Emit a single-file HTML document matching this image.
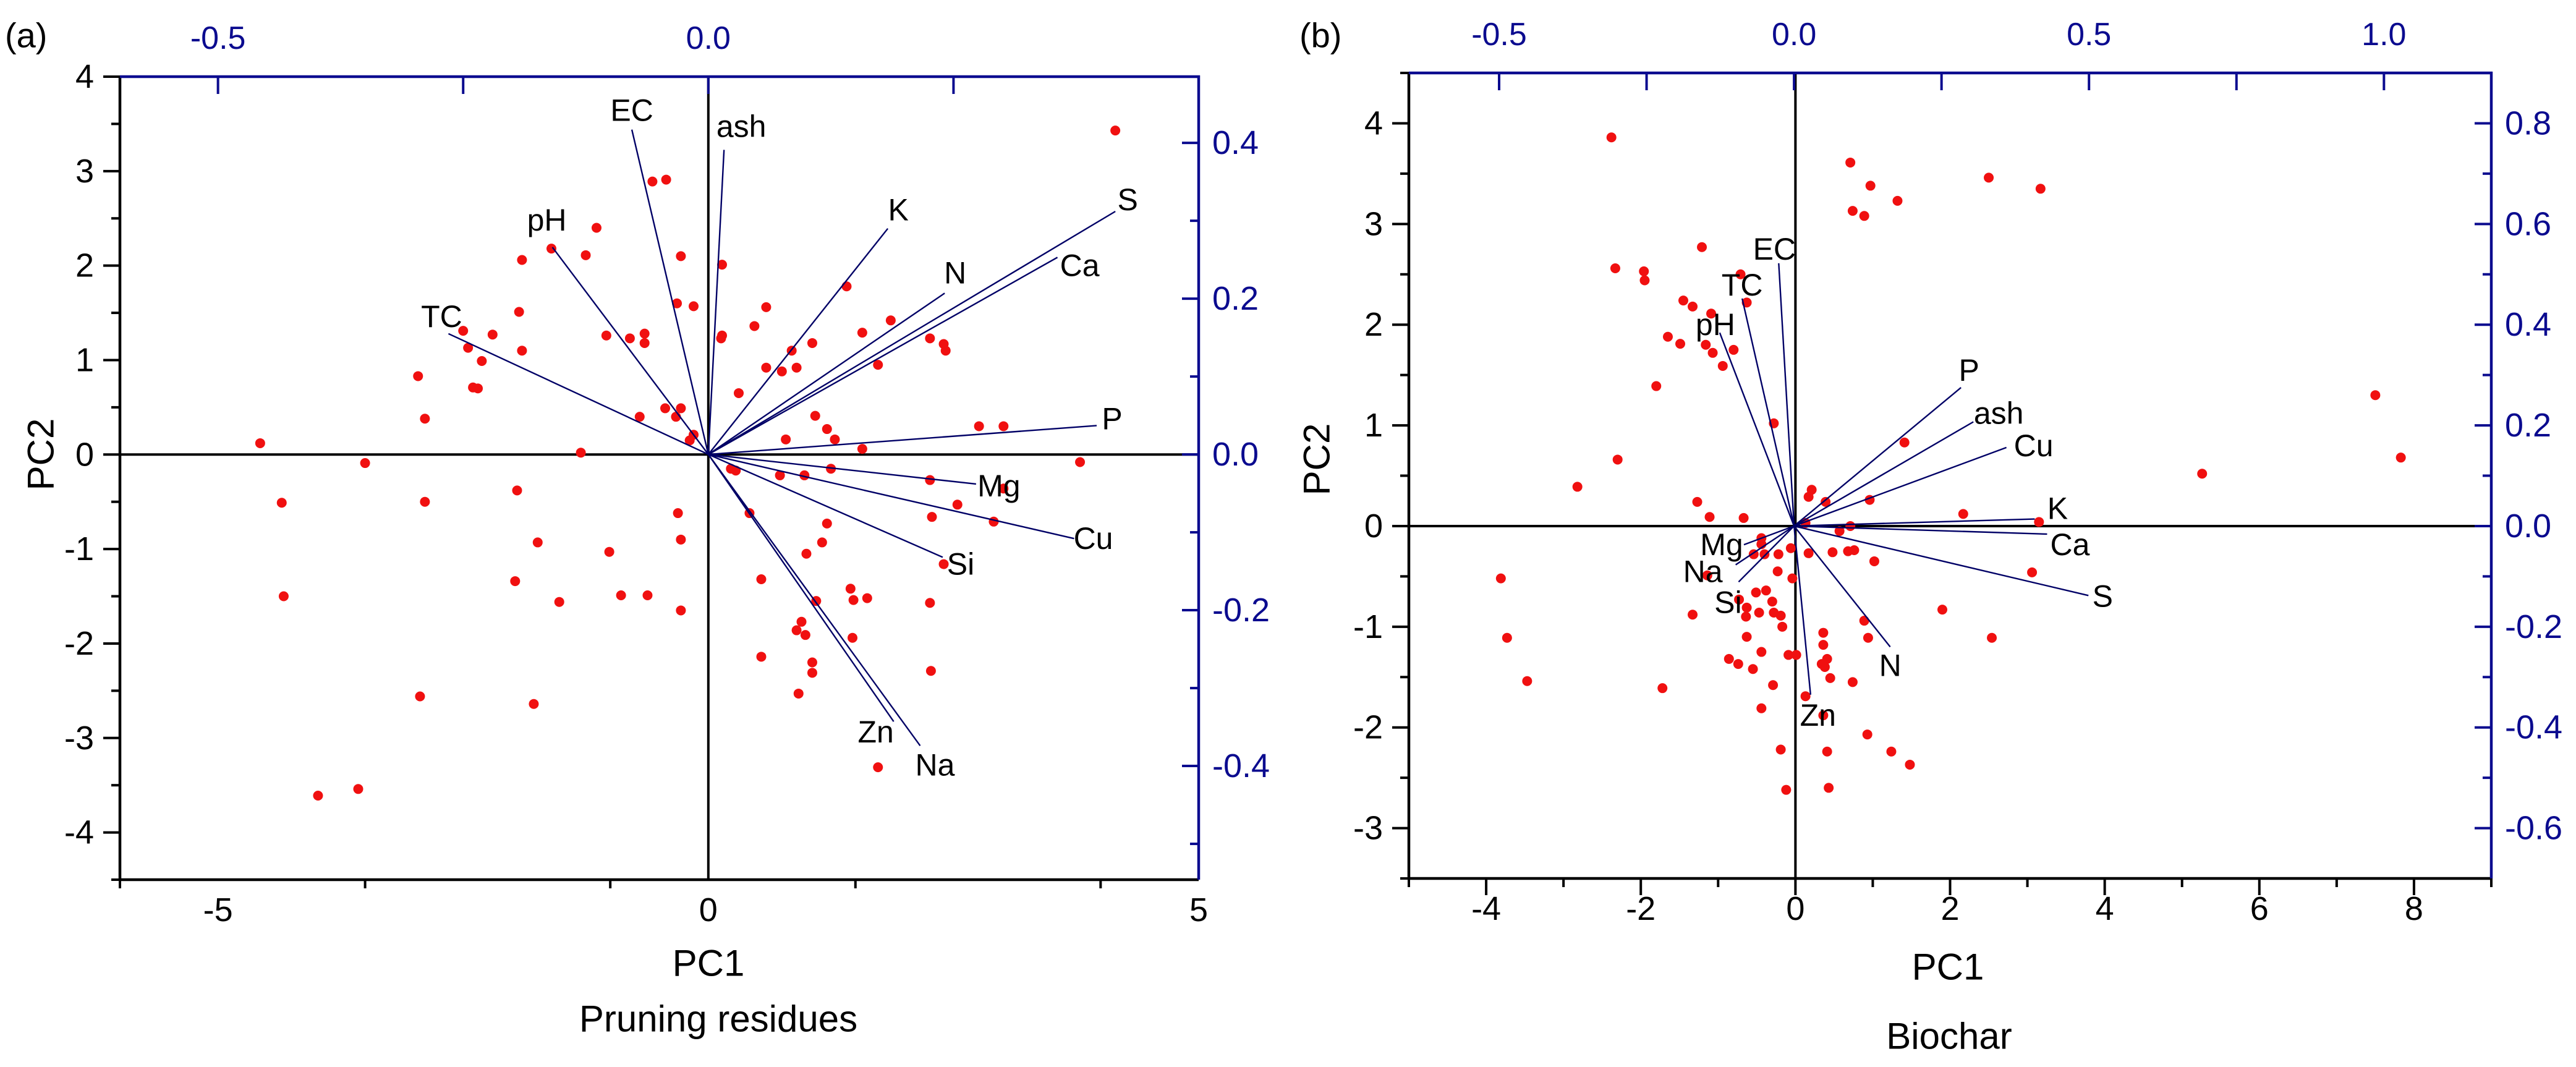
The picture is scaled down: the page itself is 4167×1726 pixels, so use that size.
<!DOCTYPE html>
<html><head><meta charset="utf-8"><style>
html,body{margin:0;padding:0;background:#fff;}
svg{display:block;font-family:"Liberation Sans",Arial,sans-serif;}
</style></head><body>
<svg id="fig" width="4167" height="1726" viewBox="0 0 4167 1726" xmlns="http://www.w3.org/2000/svg"></svg>
<script>
// ---------- Panel (a) data: Pruning residues ----------
const aScoresPC1 = [4.15,-0.57,-0.43,-1.14,-1.60,-1.25,-1.90,-0.28,0.14,1.41,-0.32,-0.15,0.59,-1.93,-2.50,-2.20,0.47,1.86,1.57,-1.04,-0.80,-0.65,-0.65,0.14,0.13,1.06,2.26,2.40,2.42,-2.45,-1.90,0.85,-2.31,1.73,0.59,0.75,0.90,-2.96,-2.40,-2.35,0.31,-2.89,-0.70,-0.44,-0.28,-0.33,1.09,1.21,1.29,0.79,-0.15,-0.19,2.76,3.01,-4.57,1.57,-1.30,-3.50,3.79,0.23,0.28,0.73,0.98,1.25,2.26,3.01,2.54,-4.35,-2.89,-1.95,-0.31,0.42,2.28,2.91,1.21,-0.28,1.16,-1.74,-1.01,1.00,2.40,-1.97,0.54,1.45,1.10,1.48,1.62,2.26,-4.33,-1.52,-0.89,-0.62,-0.28,0.95,0.90,0.99,1.47,0.54,1.06,1.06,2.27,0.92,-2.94,-1.78,1.73,-3.57,-3.98];
const aScoresPC2 = [3.43,2.89,2.91,2.40,2.18,2.11,2.06,2.10,2.01,1.78,1.60,1.57,1.56,1.51,1.31,1.27,1.36,1.42,1.29,1.26,1.23,1.28,1.18,1.26,1.23,1.18,1.23,1.17,1.10,1.13,1.10,1.10,0.99,0.95,0.92,0.88,0.92,0.83,0.71,0.70,0.65,0.38,0.40,0.49,0.49,0.40,0.41,0.27,0.16,0.16,0.21,0.15,0.30,0.30,0.12,0.06,0.02,-0.09,-0.08,-0.15,-0.17,-0.22,-0.22,-0.15,-0.27,-0.36,-0.53,-0.51,-0.50,-0.38,-0.62,-0.62,-0.66,-0.71,-0.73,-0.90,-0.93,-0.93,-1.03,-1.05,-1.16,-1.34,-1.32,-1.42,-1.55,-1.54,-1.52,-1.57,-1.50,-1.56,-1.49,-1.49,-1.65,-1.77,-1.86,-1.91,-1.94,-2.14,-2.20,-2.31,-2.29,-2.53,-2.56,-2.64,-3.31,-3.54,-3.61];
const aVarNames = ["EC","ash","pH","TC","K","N","S","Ca","P","Mg","Cu","Si","Zn","Na"];
const aLoadPC1 = [-0.078,0.016,-0.159,-0.265,0.183,0.241,0.415,0.356,0.396,0.273,0.373,0.239,0.189,0.216];
const aLoadPC2 = [0.417,0.391,0.266,0.155,0.290,0.207,0.312,0.253,0.037,-0.038,-0.108,-0.132,-0.343,-0.374];
const aBottomTicks = [-5,0,5];
const aLeftTicks = [-4,-3,-2,-1,0,1,2,3,4];
const aTopTicks = [-0.5,0.0];
const aRightTicks = [-0.4,-0.2,0.0,0.2,0.4];

// ---------- Panel (b) data: Biochar ----------
const bScoresPC1 = [-2.38,0.71,2.50,0.97,3.17,1.32,0.74,0.89,-1.21,-2.33,-1.96,-1.95,-0.71,-1.45,-1.33,-0.63,-1.09,-1.65,-1.49,-1.16,-1.07,-0.80,-0.94,-1.80,-0.28,1.41,-2.30,-2.82,0.21,0.17,0.39,-1.27,-1.11,0.96,2.17,-0.67,7.50,7.83,5.26,3.15,0.71,0.57,0.13,-0.44,-0.44,-0.54,-0.40,-0.22,-0.06,0.17,0.48,0.68,0.76,1.02,-0.23,-0.04,-1.14,-3.81,3.06,-0.51,-0.38,-0.30,-0.73,-0.63,-0.47,-0.28,-0.19,-0.64,-0.17,-1.33,-3.73,2.54,1.90,0.89,-0.63,0.36,0.36,0.94,-0.44,-0.09,0.01,-0.86,0.41,-0.74,-0.55,0.34,0.45,0.38,-3.47,-1.72,-0.29,0.74,0.13,-0.44,0.93,-0.19,0.41,1.24,1.48,-0.12,0.43,0.36];
const bScoresPC2 = [3.86,3.61,3.46,3.38,3.35,3.23,3.13,3.08,2.77,2.56,2.53,2.44,2.50,2.24,2.18,2.22,2.11,1.88,1.81,1.80,1.72,1.75,1.59,1.39,1.02,0.83,0.66,0.39,0.36,0.29,0.24,0.24,0.09,0.26,0.12,0.08,1.30,0.68,0.52,0.04,0.00,-0.05,0.03,-0.12,-0.18,-0.28,-0.28,-0.28,-0.22,-0.27,-0.26,-0.25,-0.24,-0.35,-0.45,-0.52,-0.49,-0.52,-0.46,-0.66,-0.64,-0.75,-0.73,-0.81,-0.86,-0.86,-0.89,-0.90,-1.00,-0.88,-1.11,-1.11,-0.83,-0.94,-1.10,-1.06,-1.18,-1.11,-1.25,-1.28,-1.28,-1.32,-1.32,-1.37,-1.42,-1.37,-1.51,-1.40,-1.54,-1.61,-1.58,-1.55,-1.69,-1.81,-2.07,-2.22,-2.24,-2.24,-2.37,-2.62,-2.60,-1.88];
const bVarNames = ["EC","TC","pH","P","ash","Cu","K","Ca","S","N","Zn","Mg","Na","Si"];
const bLoadPC1 = [-0.026,-0.088,-0.126,0.283,0.304,0.360,0.408,0.429,0.499,0.163,0.028,-0.085,-0.099,-0.094];
const bLoadPC2 = [0.522,0.452,0.384,0.275,0.207,0.156,0.014,-0.016,-0.138,-0.240,-0.335,-0.037,-0.077,-0.111];
const bBottomTicks = [-4,-2,0,2,4,6,8];
const bLeftTicks = [-3,-2,-1,0,1,2,3,4];
const bTopTicks = [-0.5,0.0,0.5,1.0];
const bRightTicks = [-0.6,-0.4,-0.2,0.0,0.2,0.4,0.6,0.8];

// ---------- layout (styling, not data) ----------
const aLabelOffsets = [[0,-31],[28,-38],[-9,-44],[-11,-28],[17,-30],[17,-33],[20,-19],[36,13],[25,-11],[37,3],[31,0],[29,11],[-29,17],[24,31]];
const bLabelOffsets = [[-7,-23],[0,-22],[-7,-13],[13,-28],[41,-14],[44,-3],[37,-17],[37,17],[23,1],[0,30],[12,33],[-36,0],[-53,11],[-17,33]];

const NS = "http://www.w3.org/2000/svg";
const svg = document.getElementById("fig");
const BLUE = "#0b0b8f", NAVY = "#000066", RED = "#f01010";
function mk(tag, attrs, parent) {
  const e = document.createElementNS(NS, tag);
  for (const k in attrs) e.setAttribute(k, attrs[k]);
  (parent || svg).appendChild(e);
  return e;
}
function lin(d0, d1, p0, p1) { return v => p0 + (v - d0) / (d1 - d0) * (p1 - p0); }
function fmt(v, dec) { return v.toFixed(dec); }

function drawPanel(P) {
  const g = mk("g", {});
  
  
  const X = lin(P.xd[0], P.xd[1], P.L, P.R);
  const Y = lin(P.yd[0], P.yd[1], P.B, P.T);
  const TX = lin(P.td[0], P.td[1], P.L, P.R);
  const RY = lin(P.rd[0], P.rd[1], P.B, P.T);

  // zero lines
  const zx = mk("line", {x1: X(0), x2: X(0), y1: P.T, y2: P.B, stroke: "#000", "stroke-width": 4}, g);
  
  
  const zy = mk("line", {x1: P.L, x2: P.R, y1: Y(0), y2: Y(0), stroke: "#000", "stroke-width": 4}, g);
  
  

  // score points
  const pg = mk("g", {}, g);
  
  
  for (let i = 0; i < P.sx.length; i++) {
    const c = mk("circle", {cx: X(P.sx[i]), cy: Y(P.sy[i]), r: 8, fill: RED}, pg);
    
    
  }
  // loading vectors
  const vg = mk("g", {}, g);
  
  
  for (let i = 0; i < P.names.length; i++) {
    const ex = TX(P.lx[i]), ey = RY(P.ly[i]);
    const l = mk("line", {x1: TX(0), y1: RY(0), x2: ex, y2: ey, stroke: NAVY, "stroke-width": 2.4}, vg);
    
    
    const o = P.offs[i];
    const t = mk("text", {x: ex + o[0], y: ey + o[1], "font-size": 50, "text-anchor": "middle", "dominant-baseline": "central", fill: "#000"}, vg);
    t.textContent = P.names[i];
    
    
  }

  // axes frame
  const la = mk("line", {x1: P.L, x2: P.L, y1: P.T - 2, y2: P.B + 2, stroke: "#000", "stroke-width": 4.5}, g);
  
  
  const ba = mk("line", {x1: P.L - 2, x2: P.R, y1: P.B, y2: P.B, stroke: "#000", "stroke-width": 4.5}, g);
  
  
  const ta = mk("line", {x1: P.L, x2: P.R + 2, y1: P.T, y2: P.T, stroke: BLUE, "stroke-width": 4.5}, g);
  
  
  const ra = mk("line", {x1: P.R, x2: P.R, y1: P.T - 2, y2: P.B, stroke: BLUE, "stroke-width": 4.5}, g);
  
  

  // bottom ticks (outward)
  for (let v = P.xd[0]; v <= P.xd[1] + 1e-9; v += P.xMinor) {
    const vv = Math.round(v * 1000) / 1000;
    const major = P.bottomTicks.some(t => Math.abs(t - vv) < 1e-6);
    mk("line", {x1: X(vv), x2: X(vv), y1: P.B, y2: P.B + (major ? 27 : 14), stroke: "#000", "stroke-width": 4}, g);
  }
  P.bottomTicks.forEach(v => {
    const t = mk("text", {x: X(v), y: P.B + 67, "font-size": 54, "text-anchor": "middle", fill: "#000"}, g);
    t.textContent = v;
    
    
  });
  // left ticks (outward)
  for (let v = P.yd[0]; v <= P.yd[1] + 1e-9; v += 0.5) {
    const vv = Math.round(v * 1000) / 1000;
    const major = Math.abs(vv - Math.round(vv)) < 1e-6;
    mk("line", {x1: P.L, x2: P.L - (major ? 27 : 14), y1: Y(vv), y2: Y(vv), stroke: "#000", "stroke-width": 4}, g);
  }
  P.leftTicks.forEach(v => {
    const t = mk("text", {x: P.L - 42, y: Y(v), "font-size": 54, "text-anchor": "end", "dominant-baseline": "central", fill: "#000"}, g);
    t.textContent = v;
    
    
  });
  // top ticks (inward)
  for (let v = Math.ceil(P.td[0] / 0.25) * 0.25; v <= P.td[1] + 1e-9; v += 0.25) {
    const vv = Math.round(v * 1000) / 1000;
    const major = Math.abs(vv * 2 - Math.round(vv * 2)) < 1e-6;
    mk("line", {x1: TX(vv), x2: TX(vv), y1: P.T, y2: P.T + (major ? 28 : 28), stroke: BLUE, "stroke-width": 4}, g);
  }
  P.topTicks.forEach(v => {
    const t = mk("text", {x: TX(v), y: P.T - 45, "font-size": 52, "text-anchor": "middle", fill: BLUE}, g);
    t.textContent = fmt(v, 1);
    
    
  });
  // right ticks (inward)
  for (let v = Math.ceil(P.rd[0] / 0.1) * 0.1; v <= P.rd[1] + 1e-9; v += 0.1) {
    const vv = Math.round(v * 1000) / 1000;
    const major = Math.abs(vv * 5 - Math.round(vv * 5)) < 1e-6;
    mk("line", {x1: P.R, x2: P.R - (major ? 27 : 14), y1: RY(vv), y2: RY(vv), stroke: BLUE, "stroke-width": 4}, g);
  }
  P.rightTicks.forEach(v => {
    const t = mk("text", {x: P.R + 22, y: RY(v), "font-size": 54, "text-anchor": "start", "dominant-baseline": "central", fill: BLUE}, g);
    t.textContent = fmt(v, 1);
    
    
  });

  // titles
  const xt = mk("text", {x: P.xtX, y: P.xtY, "font-size": 60, "text-anchor": "middle", "dominant-baseline": "central"}, g);
  xt.textContent = "PC1";
  
  
  const yt = mk("text", {x: 0, y: 0, "font-size": 60, "text-anchor": "middle", "dominant-baseline": "central", transform: `translate(${P.ytX},${P.ytY}) rotate(-90)`}, g);
  yt.textContent = "PC2";
  
  
  const st = mk("text", {x: P.stX, y: P.stY, "font-size": 60, "text-anchor": "middle", "dominant-baseline": "central"}, g);
  st.textContent = P.subtitle;
  
  
  const pl = mk("text", {x: P.plX, y: 57, "font-size": 56, "text-anchor": "start", "dominant-baseline": "central"}, g);
  pl.textContent = P.panelLabel;
  
  
}

drawPanel({
  name: "panel-a-pruning-residues", L: 194, R: 1939, T: 124, B: 1423,
  xd: [-6, 5], yd: [-4.5, 4], td: [-0.6, 0.5], rd: [-0.546, 0.485], xMinor: 2.5,
  sx: aScoresPC1, sy: aScoresPC2, names: aVarNames, lx: aLoadPC1, ly: aLoadPC2, offs: aLabelOffsets,
  bottomTicks: aBottomTicks, leftTicks: aLeftTicks, topTicks: aTopTicks, rightTicks: aRightTicks,
  xtX: 1146, xtY: 1558, ytX: 66, ytY: 735, stX: 1162, stY: 1648, subtitle: "Pruning residues",
  plX: 8, panelLabel: "(a)"
});
drawPanel({
  name: "panel-b-biochar", L: 2279, R: 4030, T: 118, B: 1421,
  xd: [-5, 9], yd: [-3.5, 4.5], td: [-0.653, 1.182], rd: [-0.7, 0.9], xMinor: 1,
  sx: bScoresPC1, sy: bScoresPC2, names: bVarNames, lx: bLoadPC1, ly: bLoadPC2, offs: bLabelOffsets,
  bottomTicks: bBottomTicks, leftTicks: bLeftTicks, topTicks: bTopTicks, rightTicks: bRightTicks,
  xtX: 3151, xtY: 1564, ytX: 2130, ytY: 743, stX: 3153, stY: 1676, subtitle: "Biochar",
  plX: 2102, panelLabel: "(b)"
});
</script>
</body></html>
